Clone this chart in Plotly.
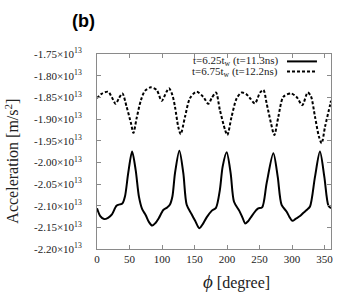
import numpy as np
import plotly.graph_objects as go

# angle phi [degree] and acceleration in units of 1e13 m/s^2
phi_a = [0, 5, 11, 17, 23, 30, 35, 39, 43, 48, 54, 59.5, 64.5, 69.5, 75, 80, 85, 90, 95,
         102, 108, 112, 116, 120, 126.7, 132.8, 138, 145.6, 151, 157.4, 163, 168.7, 176.4,
         183, 189, 193.3, 199.5, 205.6, 210.8, 219, 224, 228, 233, 238, 244, 248, 254, 261,
         271.3, 278, 284, 291.8, 296, 300.5, 306, 312.3, 318, 322.6, 327.7, 335.4, 343,
         349.7, 356, 360]
acc_a = [-2.106, -2.124, -2.131, -2.128, -2.120, -2.100, -2.097, -2.095, -2.079, -2.025,
         -1.975, -2.018, -2.079, -2.108, -2.122, -2.138, -2.146, -2.140, -2.129, -2.110,
         -2.104, -2.098, -2.079, -2.025, -1.973, -2.025, -2.098, -2.120, -2.135, -2.152,
         -2.142, -2.127, -2.112, -2.105, -2.064, -2.010, -1.977, -2.025, -2.091, -2.112,
         -2.128, -2.141, -2.135, -2.124, -2.112, -2.106, -2.104, -2.048, -1.979, -2.033,
         -2.098, -2.114, -2.126, -2.135, -2.130, -2.124, -2.116, -2.110, -2.102, -2.033,
         -1.975, -2.033, -2.100, -2.106]

phi_b = [0, 7, 17, 22.6, 28.7, 33.8, 39, 45.6, 52.3, 56, 61, 67.7, 73.8, 83, 91.8, 99.5,
         107, 110.8, 116, 120, 125, 128.7, 135.4, 143, 153.3, 163.5, 171.3, 176.4, 183, 189,
         197, 200.5, 207, 215, 222.6, 230, 235.4, 243, 250.8, 256, 261, 267.7, 272.8, 279,
         286.7, 298.5, 307, 315.9, 324, 329, 335.4, 341.5, 345.6, 350.8, 358.5, 360]
acc_b = [-1.852, -1.842, -1.837, -1.849, -1.865, -1.852, -1.841, -1.872, -1.910, -1.932,
         -1.898, -1.856, -1.835, -1.827, -1.833, -1.858, -1.837, -1.829, -1.845, -1.872,
         -1.918, -1.935, -1.895, -1.852, -1.837, -1.849, -1.865, -1.852, -1.839, -1.879,
         -1.925, -1.937, -1.895, -1.852, -1.839, -1.843, -1.852, -1.864, -1.839, -1.833,
         -1.864, -1.910, -1.937, -1.895, -1.849, -1.841, -1.849, -1.868, -1.839, -1.847,
         -1.895, -1.941, -1.956, -1.918, -1.868, -1.858]

y_ticks = [-1.75, -1.80, -1.85, -1.90, -1.95, -2.00, -2.05, -2.10, -2.15, -2.20]
x_ticks = [0, 50, 100, 150, 200, 250, 300, 350]
labels = ["t=6.25t<sub>w</sub> (t=11.3ns)", "t=6.75t<sub>w</sub> (t=12.2ns)"]

SCALE = 1e13
serif = "Liberation Serif, Times New Roman, serif"

fig = go.Figure()
fig.add_trace(go.Scatter(x=phi_a, y=np.array(acc_a) * SCALE, mode="lines",
                         line=dict(color="black", width=2, shape="spline", smoothing=0.8),
                         showlegend=False))
fig.add_trace(go.Scatter(x=phi_b, y=np.array(acc_b) * SCALE, mode="lines",
                         line=dict(color="black", width=2, dash="3px,2px", shape="spline",
                                   smoothing=0.8),
                         showlegend=False))

axis_common = dict(showline=True, linecolor="#8a8a8a", linewidth=1, mirror="ticks",
                   ticks="inside", ticklen=4, tickcolor="#8a8a8a", showgrid=False,
                   zeroline=False, automargin=False,
                   tickfont=dict(family=serif, size=11, color="#222"))

fig.update_xaxes(range=[0, 360], tickvals=x_ticks, **axis_common)
fig.update_yaxes(range=[-2.20 * SCALE, -1.75 * SCALE],
                 tickvals=[v * SCALE for v in y_ticks],
                 ticktext=["%.2f×10<sup>13</sup>" % v for v in y_ticks],
                 ticklabelstandoff=12, **axis_common)

ann = []
# legend entries (text left, sample line right)
for i, (lab, dash) in enumerate(zip(labels, ["solid", "3px,2px"])):
    yy = 0.962 - i * 0.052
    ann.append(dict(x=0.782, y=yy, xref="paper", yref="paper", text=lab, showarrow=False,
                    xanchor="right", yanchor="middle",
                    font=dict(family=serif, size=11, color="#222")))
    fig.add_shape(type="line", xref="paper", yref="paper", x0=0.812, x1=0.94, y0=yy, y1=yy,
                  line=dict(color="black", width=2, dash=dash))

ann.append(dict(x=(236 - 97) / 234, y=-0.169, xref="paper", yref="paper",
                text="<i><span style='font-size:19px'>ϕ</span></i> [degree]",
                showarrow=False, xanchor="center", yanchor="middle",
                font=dict(family=serif, size=16, color="#222")))
ann.append(dict(x=-0.365, y=0.451, xref="paper", yref="paper",
                text="Acceleration [m/s<sup>2</sup>]", showarrow=False, textangle=-90,
                xanchor="center", yanchor="middle",
                font=dict(family=serif, size=16, color="#222")))
ann.append(dict(x=(83 - 97) / 234, y=1 + (54 - 21) / 195, xref="paper", yref="paper",
                text="<b>(b)</b>", showarrow=False, xanchor="center", yanchor="middle",
                font=dict(family="Liberation Sans, Arial, sans-serif", size=18,
                          color="black")))

fig.update_layout(
    width=354, height=304, autosize=False,
    margin=dict(l=97, r=23, t=54, b=55),
    paper_bgcolor="white", plot_bgcolor="white",
    annotations=ann,
)

fig.write_html("out.html", config={"displayModeBar": False},
               post_script="document.body.style.margin='0';")
